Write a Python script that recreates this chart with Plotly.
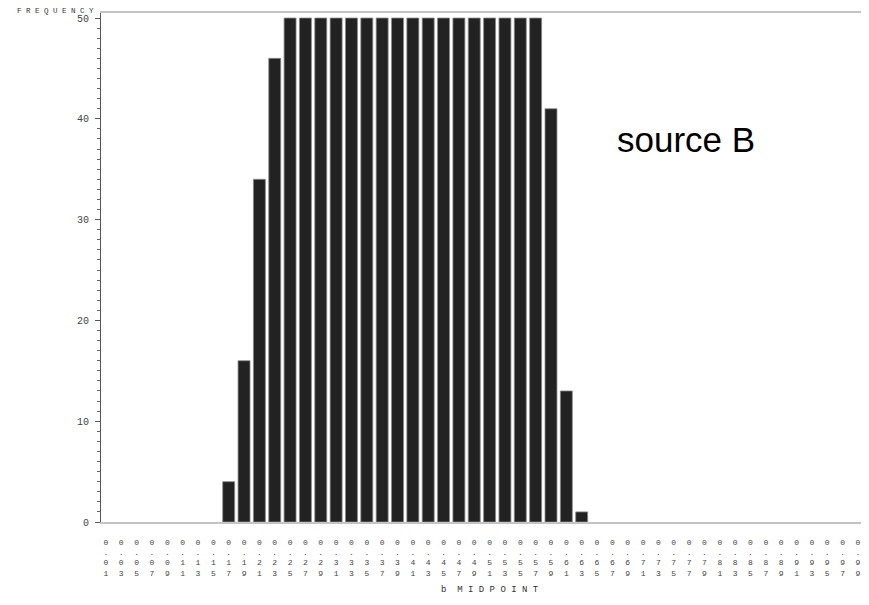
import plotly.graph_objects as go

midpoints = ["0.01", "0.03", "0.05", "0.07", "0.09", "0.11", "0.13", "0.15", "0.17", "0.19",
             "0.21", "0.23", "0.25", "0.27", "0.29", "0.31", "0.33", "0.35", "0.37", "0.39",
             "0.41", "0.43", "0.45", "0.47", "0.49", "0.51", "0.53", "0.55", "0.57", "0.59",
             "0.61", "0.63", "0.65", "0.67", "0.69", "0.71", "0.73", "0.75", "0.77", "0.79",
             "0.81", "0.83", "0.85", "0.87", "0.89", "0.91", "0.93", "0.95", "0.97", "0.99"]
frequency = [0, 0, 0, 0, 0, 0, 0, 0, 4, 16,
             34, 46, 50, 50, 50, 50, 50, 50, 50, 50,
             50, 50, 50, 50, 50, 50, 50, 50, 50, 41,
             13, 1, 0, 0, 0, 0, 0, 0, 0, 0,
             0, 0, 0, 0, 0, 0, 0, 0, 0, 0]
y_ticks = [0, 10, 20, 30, 40, 50]

tick_text = ["<br>".join(m) for m in midpoints]
edge_widths = [0.8 if v > 0 else 0 for v in frequency]
mono = "Liberation Mono"

# the page body has an 8px margin: size the figure so the page fits the 869x605 window
FW, FH = 853, 589
PL, PT, PW, PH = 93, 5, 760, 509   # plot area in figure pixels

def px(x):
    return (x - 8 - PL) / PW

def py(y):
    return (PT + PH - (y - 8)) / PH

fig = go.Figure(go.Bar(
    x=midpoints, y=frequency,
    marker=dict(color="#222222", line=dict(color="#8a8a8a", width=edge_widths)),
    width=0.78,
))

fig.update_layout(
    width=FW, height=FH,
    margin=dict(l=PL, r=FW - PL - PW, t=PT, b=FH - PT - PH),
    paper_bgcolor="white", plot_bgcolor="white",
    showlegend=False,
    xaxis=dict(
        type="category", range=[-0.32, 49.2], automargin=False,
        tickvals=midpoints, ticktext=tick_text,
        tickfont=dict(family=mono, size=8, color="#444"),
        ticks="", ticklabelstandoff=11,
        showgrid=False, zeroline=False,
        showline=True, linecolor="#c4c4c4", linewidth=2, mirror=True,
    ),
    yaxis=dict(
        range=[0, 50.5], tickvals=y_ticks, automargin=False,
        tickfont=dict(family=mono, size=10, color="#444"),
        ticks="outside", ticklen=5, tickcolor="#555", tickwidth=1,
        ticklabelstandoff=4,
        minor=dict(dtick=1, ticks="outside", ticklen=3, tickcolor="#666"),
        showgrid=False, zeroline=False,
        showline=True, linecolor="#555", linewidth=1,
    ),
    annotations=[
        dict(text="F R E Q U E N C Y", xref="paper", yref="paper",
             x=px(55), y=py(11), showarrow=False, borderpad=0,
             xanchor="center", yanchor="middle",
             font=dict(family=mono, size=7.5, color="#333")),
        dict(text="b  M I D P O I N T", xref="paper", yref="paper",
             x=px(490), y=py(590), showarrow=False,
             xanchor="center", yanchor="middle",
             font=dict(family=mono, size=9, color="#333")),
        dict(text="source B", xref="paper", yref="paper",
             x=px(686), y=py(140), showarrow=False,
             xanchor="center", yanchor="middle",
             font=dict(family="Liberation Sans, Arial", size=35, color="black")),
    ],
)

fig.write_html("out.html")
